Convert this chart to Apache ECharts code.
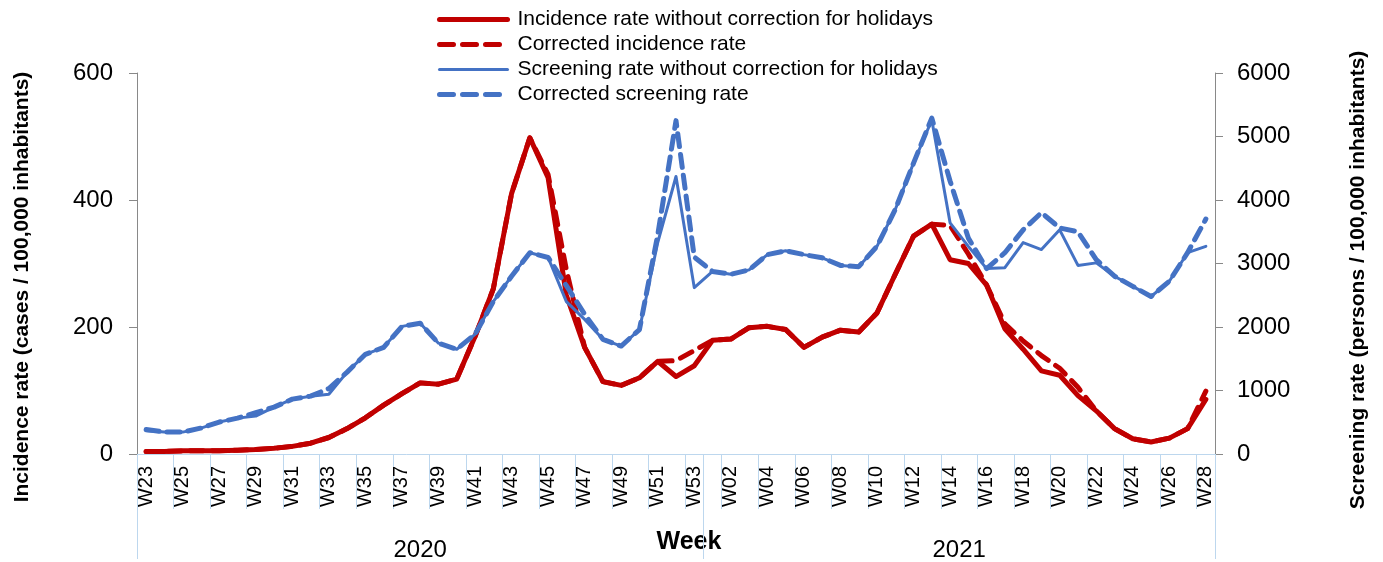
<!DOCTYPE html>
<html>
<head>
<meta charset="utf-8">
<script src="https://cdn.jsdelivr.net/npm/echarts@6/dist/echarts.min.js"></script>
<style>
  html, body { margin: 0; padding: 0; background: #fff; }
  #chart { width: 1383px; height: 562px; }
</style>
</head>
<body>
<div id="chart"></div>
<script>
// week labels, by year
let weeks2020 = ['W23','W24','W25','W26','W27','W28','W29','W30','W31','W32','W33','W34','W35','W36','W37','W38',
                 'W39','W40','W41','W42','W43','W44','W45','W46','W47','W48','W49','W50','W51','W52','W53'];
let weeks2021 = ['W01','W02','W03','W04','W05','W06','W07','W08','W09','W10','W11','W12','W13','W14',
                 'W15','W16','W17','W18','W19','W20','W21','W22','W23','W24','W25','W26','W27','W28'];
let years = ['2020', '2021'];

// cases / 100,000 inhabitants
let incidence = [4,4,5,5,5,6,7,9,12,17,26,40,57,77,95,112,110,118,185,260,410,498,435,250,168,114,108,120,146,122,139,
                 179,181,199,201,196,168,184,195,192,222,283,343,362,306,300,266,197,165,131,124,92,68,40,24,19,25,40,86];
let incidenceCorrected = [4,4,5,5,5,6,7,9,12,17,26,40,57,77,95,112,110,118,185,260,410,498,440,290,168,114,108,120,146,147,163,
                 179,181,199,201,196,168,184,195,192,222,283,343,362,360,315,266,205,178,155,135,105,68,40,24,19,25,40,99];

// persons / 100,000 inhabitants
let screening = [366,345,345,408,503,565,597,738,864,911,942,1290,1570,1680,2010,2060,1745,1650,1885,2400,2800,3170,3095,2400,2120,1806,1700,1960,3330,4370,2620,
                 2875,2830,2900,3140,3200,3140,3090,2970,2950,3270,3850,4580,5260,3640,3270,2920,2935,3330,3220,3530,2970,3010,2800,2640,2480,2720,3170,3270];
let screeningCorrected = [385,345,345,408,503,565,650,738,864,911,1030,1290,1570,1680,2010,2060,1745,1650,1885,2400,2800,3170,3095,2650,2200,1806,1700,1960,3450,5250,3100,
                 2875,2830,2900,3140,3200,3140,3090,2970,2950,3270,3850,4580,5290,4300,3400,2920,3170,3530,3800,3560,3500,3060,2800,2640,2480,2720,3170,3700];

let weeks = weeks2020.concat(weeks2021);
let yearBreaks = [0, weeks2020.length, weeks.length];
let yearCenters = [weeks2020.length / 2, weeks2020.length + weeks2021.length / 2];

let font = '"Liberation Sans", Arial, sans-serif';
let red = '#C00000';
let blue = '#4472C4';
let pale = '#BDD7EE';
let grey = '#898989';

let names = ['Incidence rate without correction for holidays', 'Corrected incidence rate',
             'Screening rate without correction for holidays', 'Corrected screening rate'];

let chart = echarts.init(document.getElementById('chart'), null, {renderer: 'canvas'});

let option = {
    animation: false,
    backgroundColor: '#fff',
    textStyle: {fontFamily: font, color: '#000'},
    grid: {left: 137, right: 168, top: 73, bottom: 107, containLabel: false},
    legend: {
        orient: 'vertical',
        left: 432,
        top: 4,
        itemWidth: 68,
        itemHeight: 14,
        itemGap: 4,
        itemStyle: {opacity: 0},
        textStyle: {fontSize: 21, fontFamily: font, color: '#000', padding: [0, 0, 0, 5]},
        data: [
            {name: names[0], lineStyle: {width: 5, type: 'solid', cap: 'round'}},
            {name: names[1], lineStyle: {width: 5, type: [14, 9], cap: 'round'}},
            {name: names[2], lineStyle: {width: 3, type: 'solid', cap: 'round'}},
            {name: names[3], lineStyle: {width: 5, type: [14, 9], cap: 'round'}}
        ]
    },
    xAxis: [
        {
            type: 'category',
            data: weeks,
            boundaryGap: true,
            axisLine: {lineStyle: {color: pale, width: 1}},
            axisTick: {show: true, interval: 1, length: 55, lineStyle: {color: pale}},
            axisLabel: {interval: 1, rotate: 90, fontSize: 20, color: '#000', margin: 12, fontFamily: font},
            splitLine: {show: false}
        },
        {
            type: 'value',
            min: 0,
            max: weeks.length,
            position: 'bottom',
            axisLine: {show: false},
            axisTick: {show: true, customValues: yearBreaks, length: 105, lineStyle: {color: pale}},
            axisLabel: {
                customValues: yearCenters,
                margin: 84,
                fontSize: 24,
                color: '#000',
                fontFamily: font,
                formatter: v => years[v < weeks2020.length ? 0 : 1]
            },
            splitLine: {show: false}
        }
    ],
    yAxis: [
        {
            type: 'value',
            min: 0, max: 600, interval: 200,
            axisLine: {show: true, lineStyle: {color: grey}},
            axisTick: {show: true, length: 8, lineStyle: {color: grey}},
            axisLabel: {fontSize: 24, color: '#000', margin: 24, fontFamily: font},
            splitLine: {show: false}
        },
        {
            type: 'value',
            position: 'right',
            min: 0, max: 6000, interval: 1000,
            axisLine: {show: true, lineStyle: {color: grey}},
            axisTick: {show: true, length: 8, lineStyle: {color: grey}},
            axisLabel: {fontSize: 24, color: '#000', margin: 22, fontFamily: font, formatter: v => String(v)},
            splitLine: {show: false}
        }
    ],
    graphic: [
        {type: 'text', x: 22, y: 287, rotation: Math.PI / 2,
         style: {text: 'Incidence rate (cases / 100,000 inhabitants)', font: 'bold 21px ' + font, fill: '#000', align: 'center', verticalAlign: 'middle'}},
        {type: 'text', x: 1358, y: 280, rotation: Math.PI / 2,
         style: {text: 'Screening rate (persons / 100,000 inhabitants)', font: 'bold 21px ' + font, fill: '#000', align: 'center', verticalAlign: 'middle'}},
        {type: 'text', x: 689, y: 542,
         style: {text: 'Week', font: 'bold 25px ' + font, fill: '#000', align: 'center', verticalAlign: 'middle'}}
    ],
    series: [
        {
            name: names[0],
            type: 'line', yAxisIndex: 0, data: incidence,
            symbol: 'none',
            lineStyle: {color: red, width: 5, cap: 'round', join: 'round'},
            itemStyle: {color: red}
        },
        {
            name: names[1],
            type: 'line', yAxisIndex: 0, data: incidenceCorrected,
            symbol: 'none',
            lineStyle: {color: red, width: 5, type: [13, 9], cap: 'round', join: 'round'},
            itemStyle: {color: red}
        },
        {
            name: names[2],
            type: 'line', yAxisIndex: 1, data: screening,
            symbol: 'none',
            lineStyle: {color: blue, width: 3, cap: 'round', join: 'round'},
            itemStyle: {color: blue}
        },
        {
            name: names[3],
            type: 'line', yAxisIndex: 1, data: screeningCorrected,
            symbol: 'none',
            lineStyle: {color: blue, width: 5, type: [13, 8], cap: 'round', join: 'round'},
            itemStyle: {color: blue}
        }
    ]
};

chart.setOption(option);
</script>
</body>
</html>
